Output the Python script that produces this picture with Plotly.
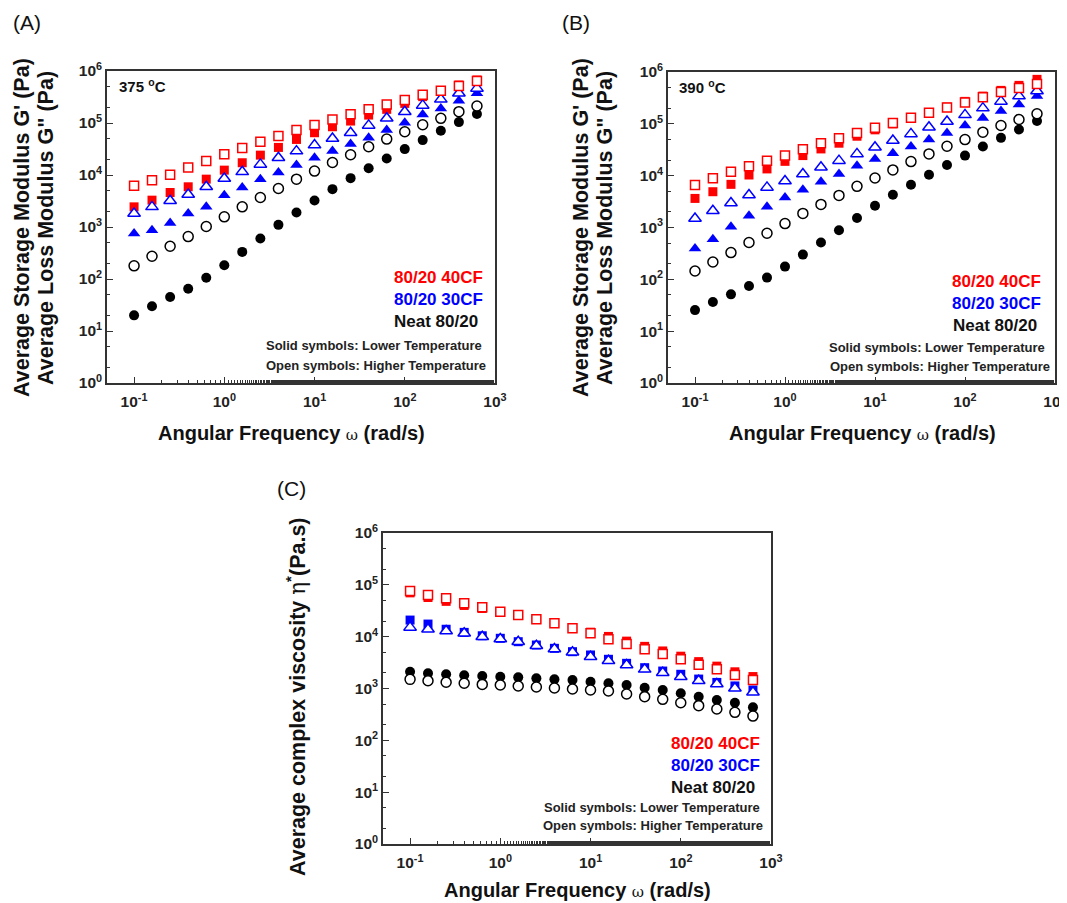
import plotly.graph_objects as go

W, H = 1067, 903
OFF = 8  # page body margin offset

# ---------------- data ----------------
freq = [0.1, 0.158, 0.251, 0.398, 0.631, 1.0, 1.58, 2.51, 3.98, 6.31,
        10.0, 15.8, 25.1, 39.8, 63.1, 100.0, 158.0, 251.0, 398.0, 631.0]

# Panel A (375 C)
A_neat_low = [20, 30, 45, 65, 106, 184, 332, 600, 1100, 1900, 3240, 5350, 8700,
              13500, 20800, 31500, 46900, 71000, 104000, 149000]
A_neat_high = [179, 274, 427, 655, 1020, 1570, 2440, 3690, 5510, 8320, 11900, 17400,
               24500, 34900, 49100, 67900, 92700, 123000, 165000, 212000]
A_30_low = [748, 867, 1200, 1820, 2440, 4100, 5750, 8320, 11200, 15500, 21400, 28800,
            39300, 52000, 73100, 101000, 146000, 191000, 268000, 372000]
A_30_high = [1820, 2440, 3190, 4220, 5930, 8580, 11500, 16000, 21400, 28800, 37600,
             50500, 65000, 89900, 123000, 165000, 218000, 285000, 372000, 463000]
A_40_low = [2440, 3280, 4610, 5930, 8320, 12400, 17200, 24100, 33900, 48300, 65000,
            84700, 109000, 142000, 183000, 238000, 321000, 418000, 537000, 671000]
A_40_high = [6200, 7960, 10100, 14000, 18500, 25200, 32900, 43600, 56000, 73100, 91200,
             117000, 147000, 183000, 228000, 277000, 350000, 418000, 514000, 641000]

# Panel B (390 C)
B_neat_low = [25.5, 36.4, 51.3, 74.3, 108, 176, 300, 513, 887, 1520, 2630, 4290, 6700,
              10400, 16100, 24400, 36400, 53600, 77600, 113000]
B_neat_high = [145, 216, 328, 513, 776, 1190, 1870, 2790, 4160, 6220, 9020, 12900, 18700,
               26300, 37000, 49700, 69000, 92900, 121000, 156000]
B_30_low = [392, 594, 1030, 1680, 2510, 3810, 5360, 7650, 10800, 15600, 21000, 27100,
            36400, 49700, 66900, 92900, 129000, 176000, 237000, 343000]
B_30_high = [1490, 2100, 2960, 4230, 5940, 7880, 10800, 14500, 19500, 26300, 35300,
             47600, 64000, 86100, 111000, 149000, 201000, 271000, 343000, 429000]
B_40_low = [3640, 4900, 6800, 10300, 13500, 18900, 24400, 32800, 42300, 57700, 76600,
            100000, 129000, 163000, 210000, 271000, 343000, 442000, 552000, 721000]
B_40_high = [6600, 8870, 11900, 15200, 19500, 24400, 32400, 42300, 52800, 66900, 83700,
             104000, 131000, 163000, 207000, 259000, 324000, 410000, 490000, 586000]

# Panel C (complex viscosity)
C_neat_low = [2110, 1960, 1880, 1800, 1740, 1690, 1640, 1570, 1500, 1460, 1350, 1260,
              1170, 1035, 935, 807, 695, 600, 532, 433]
C_neat_high = [1500, 1410, 1320, 1260, 1200, 1170, 1120, 1070, 1020, 977, 935, 895, 783,
               695, 618, 532, 466, 402, 347, 294]
C_30_low = [20900, 17500, 13900, 12100, 10400, 9300, 8000, 6900, 5960, 5130, 4430, 3660,
            3060, 2520, 2170, 1880, 1520, 1310, 1120, 935]
C_30_high = [15100, 13900, 12900, 11600, 10000, 9020, 8000, 6700, 5780, 4990, 4110, 3440,
             2840, 2340, 2020, 1690, 1410, 1220, 1010, 845]
C_40_low = [70000, 57000, 48000, 40000, 35000, 30000, 26000, 22000, 18500, 15000, 12200,
            10100, 8200, 6500, 5300, 4200, 3300, 2700, 2100, 1700]
C_40_high = [76000, 63600, 55000, 44000, 36800, 30300, 26200, 21600, 18100, 14500, 11600,
             8900, 7210, 5700, 4630, 3650, 2880, 2350, 1820, 1460]

x_tickvals = [0.1, 1, 10, 100, 1000]
x_ticktext = ["10<sup>-1</sup>", "10<sup>0</sup>", "10<sup>1</sup>", "10<sup>2</sup>", "10<sup>3</sup>"]
y_tickvals = [1, 10, 100, 1000, 10000, 100000, 1000000]
y_ticktext = ["10<sup>%d</sup>" % i for i in range(7)]

RED, BLUE, BLACK = "#ff0000", "#0000ff", "#000000"
FONT = "Liberation Sans, Arial, sans-serif"


def px(x):
    return (x - OFF) / W


def py(y):
    return 1 - (y - OFF) / H


fig = go.Figure()


def add_panel(ax, series):
    xa = "x" if ax == 1 else "x%d" % ax
    ya = "y" if ax == 1 else "y%d" % ax
    for vals, color, sym, filled, size in series:
        if filled:
            fig.add_trace(go.Scatter(x=freq, y=vals, mode="markers", xaxis=xa, yaxis=ya,
                                     showlegend=False, cliponaxis=False,
                                     marker=dict(symbol=sym, size=size, color=color,
                                                 line=dict(width=0))))
    for vals, color, sym, filled, size in series:
        if not filled:
            fig.add_trace(go.Scatter(x=freq, y=vals, mode="markers", xaxis=xa, yaxis=ya,
                                     showlegend=False, cliponaxis=False,
                                     marker=dict(symbol=sym, size=size, color="white",
                                                 line=dict(width=1.5, color=color))))


add_panel(1, [
    (A_neat_low, BLACK, "circle", True, 10),
    (A_30_low, BLUE, "triangle-up", True, 11),
    (A_40_low, RED, "square", True, 9),
    (A_neat_high, BLACK, "circle", False, 10),
    (A_30_high, BLUE, "triangle-up", False, 11),
    (A_40_high, RED, "square", False, 9),
])
add_panel(2, [
    (B_neat_low, BLACK, "circle", True, 10),
    (B_30_low, BLUE, "triangle-up", True, 11),
    (B_40_low, RED, "square", True, 9),
    (B_neat_high, BLACK, "circle", False, 10),
    (B_30_high, BLUE, "triangle-up", False, 11),
    (B_40_high, RED, "square", False, 9),
])
add_panel(3, [
    (C_neat_low, BLACK, "circle", True, 10),
    (C_30_low, BLUE, "square", True, 9),
    (C_40_low, RED, "square", True, 9),
    (C_neat_high, BLACK, "circle", False, 10),
    (C_30_high, BLUE, "triangle-up", False, 11),
    (C_40_high, RED, "square", False, 9),
])

tickfont = dict(family=FONT, size=15.5, color="#222", weight="bold")


def common(domain, anchor, rng):
    return dict(type="log", domain=domain, anchor=anchor, range=rng, automargin=False,
                tickfont=tickfont,
                ticks="inside", ticklen=6, tickwidth=1.2, tickcolor="#333",
                minor=dict(ticks="inside", ticklen=3, tickwidth=1, tickcolor="#333", showgrid=False),
                showline=True, linewidth=1.5, linecolor="#333", mirror=True,
                showgrid=False, zeroline=False)


def xaxis(domain, anchor):
    d = common(domain, anchor, [-1.3, 3.0])
    d.update(tickvals=x_tickvals, ticktext=x_ticktext, ticklabelstandoff=4)
    return d


def yaxis(domain, anchor):
    d = common(domain, anchor, [0, 6])
    d.update(tickvals=y_tickvals, ticktext=y_ticktext)
    return d


fig.update_layout(
    width=W, height=H, autosize=False,
    margin=dict(l=0, r=0, t=0, b=0, pad=0, autoexpand=False),
    paper_bgcolor="white", plot_bgcolor="white",
    showlegend=False,
    xaxis=xaxis([px(107), px(495)], "y"),
    yaxis=yaxis([py(383), py(71)], "x"),
    xaxis2=xaxis([px(668), px(1055)], "y2"),
    yaxis2=yaxis([py(383), py(72)], "x2"),
    xaxis3=xaxis([px(383), px(771)], "y3"),
    yaxis3=yaxis([py(844), py(533)], "x3"),
)

anns = []


def text(x, y, s, size, color="#111", bold=True, xanchor="center", angle=0):
    anns.append(dict(x=px(x), y=py(y), xref="paper", yref="paper", text=s, showarrow=False,
                     xanchor=xanchor, yanchor="middle", textangle=angle,
                     font=dict(family=FONT, size=size, color=color,
                               weight="bold" if bold else "normal")))


OMEGA = "<span style='font-family:DejaVu Serif, serif;font-weight:normal;font-size:15px'>ω</span>"
XTITLE = "Angular Frequency " + OMEGA + " (rad/s)"

# panel labels
text(27, 23, "(A)", 21, bold=False)
text(576, 23, "(B)", 21, bold=False)
text(291, 488, "(C)", 21, bold=False)

# axis titles
text(291, 433, XTITLE, 20)
text(862, 433, XTITLE, 20)
text(577, 890, XTITLE, 20)
text(22, 228, "Average Storage Modulus G' (Pa)", 21.5, angle=-90)
text(46, 228, 'Average Loss Modulus G" (Pa)', 21.5, angle=-90)
text(581, 228, "Average Storage Modulus G' (Pa)", 21.5, angle=-90)
text(605, 228, 'Average Loss Modulus G" (Pa)', 21.5, angle=-90)
text(296, 697, "Average complex viscosity "
     "<span style='font-family:DejaVu Serif, serif;font-weight:normal'>η</span>"
     "<sup>*</sup>(Pa.s)", 21.5, angle=-90)

# temperatures
text(117, 85, "375 <sup>o</sup>C", 15, xanchor="left")
text(677, 87, "390 <sup>o</sup>C", 15, xanchor="left")

# in-plot legends
for (xr, y0, xr_n, y_s, xr_s, y_o, xr_o) in [
    (485, 277, 480, 346, 484, 365, 488),
    (1043, 281, 1039, 347, 1047, 366, 1052),
    (762, 743, 757, 807, 762, 825, 765),
]:
    text(xr, y0, "80/20 40CF", 17, color=RED, xanchor="right")
    text(xr, y0 + 22, "80/20 30CF", 17, color=BLUE, xanchor="right")
    text(xr_n, y0 + 44, "Neat 80/20", 17, color="#111", xanchor="right")
    text(xr_s, y_s, "Solid symbols: Lower Temperature", 13, color="#222", xanchor="right")
    text(xr_o, y_o, "Open symbols: Higher Temperature", 13, color="#222", xanchor="right")

fig.update_layout(annotations=anns)
fig.write_html("out.html")
